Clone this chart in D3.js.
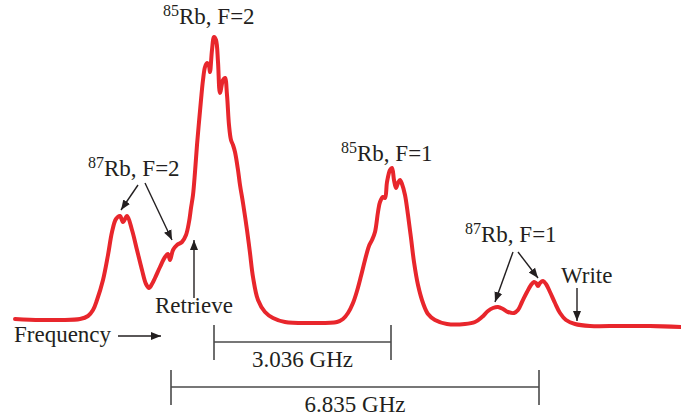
<!DOCTYPE html>
<html>
<head>
<meta charset="utf-8">
<script src="https://cdn.jsdelivr.net/npm/d3@7"></script>
<style>
  body { margin: 0; background: #fff; }
  text { font-family: "Liberation Serif", "Times New Roman", serif; fill: #231f20; }
</style>
</head>
<body>
<div class="chart"></div>
<script>
// detuning from the 85Rb F=2 peak (a.u.) and signal (counts)
const freq = [-3.98, -3.48, -3.08, -2.68, -2.52, -2.42, -2.34, -2.22, -2.12, -2.04,
  -1.96, -1.88, -1.82, -1.74, -1.64, -1.54, -1.44, -1.36, -1.30, -1.24,
  -1.18, -1.08, -0.98, -0.92, -0.88, -0.82, -0.74, -0.64, -0.56, -0.50,
  -0.46, -0.42, -0.38, -0.34, -0.30, -0.26, -0.22, -0.18, -0.14, -0.10,
  -0.08, -0.04, 0, 0.04, 0.08, 0.12, 0.18, 0.22, 0.26, 0.30,
  0.34, 0.38, 0.42, 0.48, 0.52, 0.58, 0.66, 0.72, 0.78, 0.88,
  1.02, 1.18, 1.42, 1.92, 2.46, 2.58, 2.68, 2.78, 2.86, 2.94,
  3.02, 3.10, 3.16, 3.22, 3.28, 3.32, 3.38, 3.42, 3.46, 3.52,
  3.56, 3.60, 3.64, 3.68, 3.72, 3.76, 3.82, 3.88, 3.94, 4.00,
  4.08, 4.18, 4.28, 4.42, 4.66, 5.02, 5.22, 5.36, 5.48, 5.58,
  5.68, 5.78, 5.88, 6.00, 6.08, 6.16, 6.26, 6.34, 6.40, 6.44,
  6.48, 6.52, 6.58, 6.64, 6.72, 6.82, 6.92, 7.04, 7.22, 7.52,
  8.12, 8.72, 9.34];
const signal = [8, 7, 7, 8, 11, 17, 27, 47, 72, 95,
  108, 111, 105, 111, 97, 77, 57, 43, 39, 43,
  49, 60, 70, 73, 67, 77, 82, 85, 92, 105,
  119, 132, 155, 182, 205, 227, 247, 260, 264, 261,
  255, 277, 290, 287, 265, 234, 247, 249, 232, 202,
  187, 182, 175, 157, 142, 124, 97, 74, 50, 27,
  15, 9, 5, 4, 5, 8, 14, 24, 36, 51,
  67, 81, 87, 95, 115, 125, 130, 129, 145, 157,
  159, 147, 139, 144, 147, 143, 132, 112, 89, 65,
  42, 24, 13, 7, 3, 3, 5, 10, 16, 19,
  20, 18, 15, 14, 17, 25, 35, 42, 45, 44,
  41, 44, 46, 43, 35, 24, 14, 7, 3, 1,
  1, 1, 0];

const spans = [
  { label: "3.036 GHz", from: 0, to: 3.54 },
  { label: "6.835 GHz", from: -0.86, to: 6.5 }
];

const width = 681;
const height = 419;

const svg = d3.select(".chart")
  .append("svg")
  .attr("width", width)
  .attr("height", height);

const x = d3.scaleLinear()
  .domain([-3.98, 9.34])
  .range([15, 681]);

const y = d3.scaleLinear()
  .domain([0, 290])
  .range([327, 37]);

const data = freq.map((f, i) => ({ f: f, s: signal[i] }));

svg.append("defs").append("marker")
  .attr("id", "head")
  .attr("viewBox", "0 0 10 10")
  .attr("refX", 10)
  .attr("refY", 5)
  .attr("markerWidth", 10)
  .attr("markerHeight", 10)
  .attr("markerUnits", "userSpaceOnUse")
  .attr("orient", "auto")
  .append("path")
  .attr("d", "M0,1 L10,5 L0,9 z")
  .attr("fill", "#231f20");

// trace
svg.append("path")
  .datum(data)
  .attr("fill", "none")
  .attr("stroke", "#e8262c")
  .attr("stroke-width", 4)
  .attr("stroke-linejoin", "round")
  .attr("stroke-linecap", "round")
  .attr("d", d3.line()
    .x(d => x(d.f))
    .y(d => y(d.s))
    .curve(d3.curveCatmullRom.alpha(0.5)));

// splitting brackets
const bracketY = [342, 387];
spans.forEach((sp, i) => {
  const g = svg.append("g")
    .attr("stroke", "#4a4a4a")
    .attr("stroke-width", 1.6);
  const yy = bracketY[i];
  g.append("line").attr("x1", x(sp.from)).attr("x2", x(sp.to)).attr("y1", yy).attr("y2", yy);
  g.append("line").attr("x1", x(sp.from)).attr("x2", x(sp.from)).attr("y1", yy - 17).attr("y2", yy + 18);
  g.append("line").attr("x1", x(sp.to)).attr("x2", x(sp.to)).attr("y1", yy - 17).attr("y2", yy + 18);
  svg.append("text")
    .attr("x", (x(sp.from) + x(sp.to)) / 2)
    .attr("y", yy + 25)
    .attr("text-anchor", "middle")
    .attr("font-size", 23)
    .text(sp.label);
});

// labels with superscript mass number
const labels = [
  { iso: "85", rest: "Rb, F=2", x: 163, y: 24 },
  { iso: "87", rest: "Rb, F=2", x: 88, y: 176 },
  { iso: "85", rest: "Rb, F=1", x: 341, y: 161 },
  { iso: "87", rest: "Rb, F=1", x: 465, y: 242 }
];
labels.forEach(l => {
  const t = svg.append("text")
    .attr("x", l.x)
    .attr("y", l.y)
    .attr("font-size", 23);
  t.append("tspan").attr("font-size", 16).attr("dy", -8).text(l.iso);
  t.append("tspan").attr("dy", 8).text(l.rest);
});

const plain = [
  { text: "Retrieve", x: 155, y: 313 },
  { text: "Frequency", x: 14, y: 342 },
  { text: "Write", x: 561, y: 283 }
];
plain.forEach(p => {
  svg.append("text")
    .attr("x", p.x)
    .attr("y", p.y)
    .attr("font-size", 23)
    .text(p.text);
});

const arrows = [
  [138, 185, 121, 210],
  [145, 183, 172, 240],
  [194, 298, 194, 240],
  [118, 336, 161, 336],
  [513, 252, 495, 302],
  [518, 252, 538, 278],
  [577, 288, 577, 321]
];
svg.append("g")
  .selectAll("line")
  .data(arrows)
  .join("line")
  .attr("x1", d => d[0])
  .attr("y1", d => d[1])
  .attr("x2", d => d[2])
  .attr("y2", d => d[3])
  .attr("stroke", "#231f20")
  .attr("stroke-width", 1.4)
  .attr("marker-end", "url(#head)");
</script>
</body>
</html>
